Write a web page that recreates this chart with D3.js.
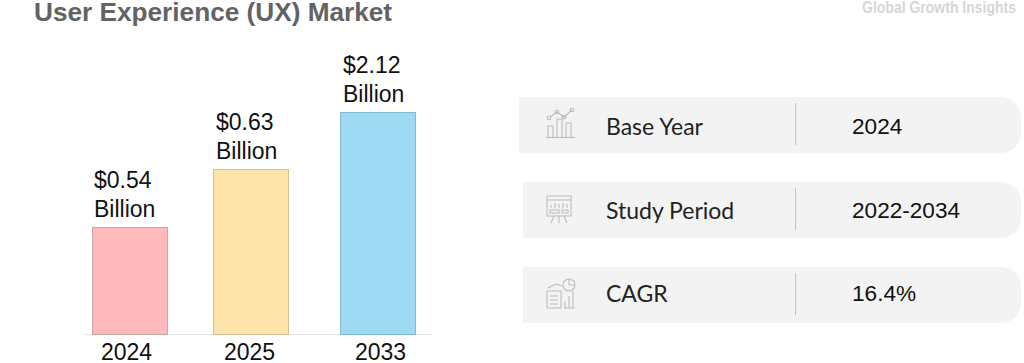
<!DOCTYPE html>
<html>
<head>
<meta charset="utf-8">
<script src="https://cdn.jsdelivr.net/npm/d3@7"></script>
<style>
  html, body { margin: 0; padding: 0; background: #fff; overflow: hidden; }
  svg { display: block; }
  .info-label { font-family: Lato, "Noto Sans", sans-serif; font-size: 23px; fill: #222; }
  .info-value { font-family: "Liberation Sans", Arial, sans-serif; font-size: 22.6px; fill: #111; }
  .val { font-family: "Liberation Sans", Arial, sans-serif; font-size: 23px; fill: #111; }
  .axis-x text { font-family: "Liberation Sans", Arial, sans-serif; font-size: 23px; fill: #111; }
  .icon * { fill: none; stroke: #bcbcbc; stroke-width: 1.1; }
</style>
</head>
<body>
<svg id="chart" width="1024" height="363"></svg>
<script>
const years = ["2024", "2025", "2033"];
const values = [0.54, 0.63, 2.12];
const valueLabels = ["$0.54", "$0.63", "$2.12"];
const barColors = ["#ffb8bc", "#fee4a8", "#9fdaf5"];
const barStrokes = ["#c9a8a8", "#cfc09a", "#86b8cf"];
const infoLabels = ["Base Year", "Study Period", "CAGR"];
const infoValues = ["2024", "2022-2034", "16.4%"];

const svg = d3.select("#chart");

// the picture's bars are not to scale, so the value scale is piecewise
const fnYScale = d3.scaleLinear().domain([0, 0.54, 0.63, 2.12]).range([334, 227, 169, 112]);
const fnXScale = d3.scaleOrdinal().domain(years).range([92, 213, 340]);
const fnLabelScale = d3.scaleOrdinal().domain(years).range([94, 216, 343]);
const fnTickScale = d3.scaleOrdinal().domain(years).range([126, 249, 380]);
const barWidth = 75;

svg.append("text")
  .attr("x", 34).attr("y", 21)
  .style("font", "bold 26.2px 'Liberation Sans', Arial, sans-serif")
  .style("fill", "#636363")
  .text("User Experience (UX) Market");

// watermark is a condensed face, so squeeze the glyphs to its width
svg.append("text")
  .attr("x", 862).attr("y", 13)
  .attr("textLength", 154)
  .attr("lengthAdjust", "spacingAndGlyphs")
  .style("font", "bold 17px 'Liberation Sans', sans-serif")
  .style("fill", "#d6d6d6")
  .text("Global Growth Insights");

// baseline
svg.append("line")
  .attr("x1", 84).attr("x2", 432)
  .attr("y1", 334.5).attr("y2", 334.5)
  .attr("stroke", "#e6e6e6");

// bars
const rows = years.map((y, i) => ({ year: y, value: values[i], label: valueLabels[i], i }));

svg.selectAll("rect.bar")
  .data(rows)
  .enter()
  .append("rect")
  .attr("class", "bar")
  .attr("x", (d) => fnXScale(d.year) + 0.5)
  .attr("y", (d) => fnYScale(d.value) + 0.5)
  .attr("width", barWidth)
  .attr("height", (d) => fnYScale(0) - fnYScale(d.value))
  .style("fill", (d) => barColors[d.i])
  .style("stroke", (d) => barStrokes[d.i]);

// value labels, two lines above each bar
const labels = svg.selectAll("text.val").data(rows).enter().append("text")
  .attr("class", "val")
  .attr("x", (d) => fnLabelScale(d.year))
  .attr("y", (d) => fnYScale(d.value) - 39);
labels.append("tspan").text((d) => d.label);
labels.append("tspan")
  .attr("x", (d) => fnLabelScale(d.year))
  .attr("dy", 29)
  .text("Billion");

//axis
const xAxis = d3.axisBottom(fnTickScale).tickSize(0).tickPadding(0);
svg.append("g")
  .attr("class", "axis-x")
  .attr("transform", "translate(0, 340)")
  .call(xAxis)
  .call((g) => g.select(".domain").remove())
  .call((g) => g.selectAll("text").attr("dy", "0.85em"));

// info rows on the right
const fnRowY = d3.scalePoint().domain(infoLabels).range([97, 267]);
const fnRowX = d3.scaleOrdinal().domain(infoLabels).range([519, 523, 523]);
const fnBaseline = d3.scaleOrdinal().domain(infoLabels).range([37, 36, 34]);
const fnIconTop = d3.scaleOrdinal().domain(infoLabels).range([11, 13, 12]);

const info = svg.selectAll("g.info-row")
  .data(infoLabels.map((l, i) => ({ label: l, value: infoValues[i], i })))
  .enter()
  .append("g")
  .attr("class", "info-row")
  .attr("transform", (d) => `translate(0, ${fnRowY(d.label)})`);

info.append("path")
  .attr("d", (d) => {
    const x0 = fnRowX(d.label);
    return `M${x0},0 H1001 A20,20 0 0 1 1021,20 V36 A20,20 0 0 1 1001,56 H${x0} Z`;
  })
  .style("fill", "#f3f3f3");

info.append("line")
  .attr("x1", 795.5).attr("x2", 795.5)
  .attr("y1", 6).attr("y2", 48)
  .attr("stroke", "#c4c4c4");

info.append("text")
  .attr("class", "info-label")
  .attr("x", 606).attr("y", (d) => fnBaseline(d.label) + 1)
  .text((d) => d.label);

info.append("text")
  .attr("class", "info-value")
  .attr("x", 852).attr("y", (d) => fnBaseline(d.label))
  .text((d) => d.value);

// small line icons
const icon = info.append("g")
  .attr("class", "icon")
  .attr("transform", (d) => `translate(546, ${fnIconTop(d.label)})`);

icon.filter((d) => d.i === 0).call((g) => {
  g.append("path").attr("d", "M0,29.5 H29");
  g.append("path").attr("d", "M2,29 V18 H7 V29 M11,29 V11 H16 V29 M20,29 V15 H25 V29");
  g.append("path").attr("d", "M4,9 L11,4 L18,9 L26,2");
  [[3, 10], [11, 4], [18, 9], [26, 2]].forEach((c) => {
    g.append("circle").attr("cx", c[0]).attr("cy", c[1]).attr("r", 1.8);
  });
});
icon.filter((d) => d.i === 1).call((g) => {
  g.append("path").attr("d", "M1,1 H25 V21 H1 Z M1,5 H25");
  g.append("path").attr("d", "M5,13 V10 M9,13 V8 M13,13 V9 M17,13 V8 M21,13 V9 M4,15 H13 V18 H4 Z M16,15 H22 V18 H16 Z");
  g.append("path").attr("d", "M8,21 L5,28 M13,21 V28 M18,21 L21,28");
});
icon.filter((d) => d.i === 2).call((g) => {
  g.append("path").attr("d", "M1,12 H15 V29 H1 Z M4,17 H12 M4,21 H12 M4,25 H12");
  g.append("path").attr("d", "M18,29 H29 M19,29 V22 M23,29 V17 M27,29 V12");
  g.append("path").attr("d", "M2,9 L10,5 L16,7");
  g.append("circle").attr("cx", 23).attr("cy", 6).attr("r", 6);
  g.append("path").attr("d", "M23,6 V0 M23,6 L29,6");
});
</script>
</body>
</html>
